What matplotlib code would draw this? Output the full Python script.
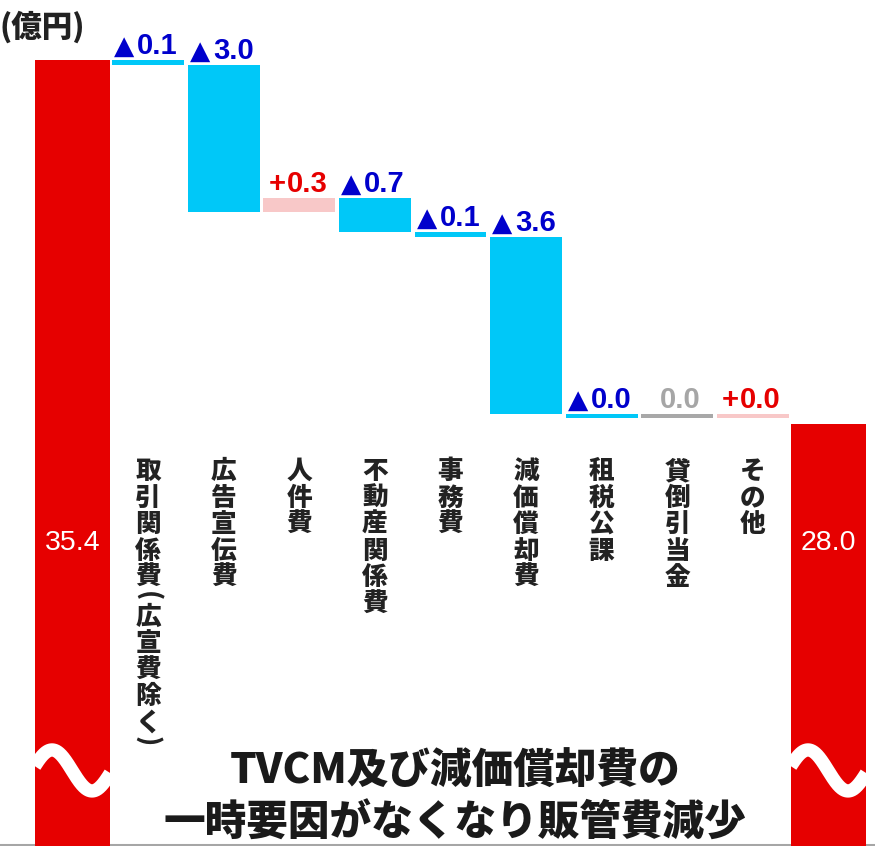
import numpy as np
import matplotlib.pyplot as plt
from matplotlib.lines import Line2D

plt.rcParams['font.family'] = ['Noto Sans CJK JP', 'DejaVu Sans']

# 販管費の増減（億円）
start_value = 35.4
end_value = 28.0
categories = ['取引関係費（広宣費除く）', '広告宣伝費', '人件費', '不動産関係費', '事務費',
              '減価償却費', '租税公課', '貸倒引当金', 'その他']
changes = [0.1, 3.0, 0.3, 0.7, 0.1, 3.6, 0.0, 0.0, 0.0]
directions = ['down', 'down', 'up', 'down', 'down', 'down', 'down', 'flat', 'up']
unit_label = '(億円)'
headline = ['TVCM及び減価償却費の', '一時要因がなくなり販管費減少']

RED = '#e60000'
bar_colors = {'down': '#00c8f8', 'up': '#f8c8c8', 'flat': '#a8a8a8'}
text_colors = {'down': '#0000cc', 'up': '#e60000', 'flat': '#a6a6a6'}
prefix = {'down': '▲', 'up': '+', 'flat': ''}
sign = {'down': -1, 'up': 1, 'flat': 0}
num_font = ['Liberation Sans', 'DejaVu Sans']
thin = 0.08  # smallest drawn height so tiny changes still show
PT = 0.72    # points per pixel at 100 dpi

fig = plt.figure(figsize=(8.75, 8.46), dpi=100)
ax = fig.add_axes([0.0397, 0.0, 0.9504, 1.0])
ylo, yhi = 19.42, 36.62
ax.set_xlim(-0.5, 10.5)
ax.set_ylim(ylo, yhi)
ax.axis('off')

x_end = len(categories) + 1

# start / end totals with a white break mark near the bottom
for x, v in ((0, start_value), (x_end, end_value)):
    patch = ax.bar(x, v, width=0.99, color=RED, zorder=2)[0]
    ax.annotate(f'{v:.1f}', xy=(x, 0.358), xycoords=('data', 'axes fraction'),
                ha='center', va='center', color='white', fontsize=20.5, family=num_font, zorder=4)
    u = np.linspace(0, 1, 200)
    xs = x - 0.5 + u
    ys = (ylo + 1.536) + 0.417 * np.sin(2 * np.pi * (0.034 + 0.945 * u))
    wave, = ax.plot(xs, ys, color='white', lw=9.6, solid_capstyle='butt', zorder=3)
    wave.set_clip_path(patch)

# floating step bars
bar_w = 0.95
level = start_value
for i, (mag, d) in enumerate(zip(changes, directions)):
    x = i + 1
    prev = level
    level = prev + sign[d] * mag
    top = max(prev, level)
    h = max(mag, thin)
    ax.bar(x, h, bottom=top - h, width=bar_w, color=bar_colors[d], zorder=2)
    left = x - bar_w / 2
    if prefix[d] == '▲':
        ax.annotate('▲', xy=(left, top), xytext=(2 * PT, 6 * PT), textcoords='offset points',
                    ha='left', va='baseline', color=text_colors[d], fontsize=19,
                    family=['DejaVu Sans'])
        dx = 25
    elif prefix[d] == '+':
        ax.annotate('+', xy=(left, top), xytext=(5 * PT, 6 * PT), textcoords='offset points',
                    ha='left', va='baseline', color=text_colors[d], fontsize=21,
                    fontweight='bold', family=num_font)
        dx = 23
    else:
        dx = 18
    ax.annotate(f'{mag:.1f}', xy=(left, top), xytext=(dx * PT, 6 * PT), textcoords='offset points',
                ha='left', va='baseline', color=text_colors[d], fontsize=21,
                fontweight='bold', family=num_font)

# vertical category names, one character at a time
fs = 18.5
em = fs / PT
for i, name in enumerate(categories):
    x = i + 1
    cum = 0.0
    for ch in name:
        if ch in '（）':
            step = 13.0
            ax.annotate('(' if ch == '（' else ')', xy=(x, 0.4598),
                        xycoords=('data', 'axes fraction'),
                        xytext=(0, -(cum + step / 2) * PT), textcoords='offset points',
                        ha='center', va='center', rotation=-90, rotation_mode='anchor',
                        fontsize=fs, fontweight='black', color='#222222')
        else:
            step = 26.5
            ax.annotate(ch, xy=(x, 0.4598), xycoords=('data', 'axes fraction'),
                        xytext=(0, -(cum + 0.86 * em) * PT), textcoords='offset points',
                        ha='center', va='baseline', fontsize=fs, fontweight='black',
                        color='#222222')
        cum += step

fig.text(0.0, 1 - 27 / 846, unit_label, ha='left', va='center',
         fontsize=22, fontweight='black', color='#222222')

fig.text(455 / 875, 1 - 772 / 846, headline[0], ha='center', va='center',
         fontsize=30, fontweight='black', color='#1a1a1a')
fig.text(455 / 875, 1 - 824 / 846, headline[1], ha='center', va='center',
         fontsize=30, fontweight='black', color='#1a1a1a')

fig.add_artist(Line2D([0, 1], [1.5 / 846, 1.5 / 846], transform=fig.transFigure,
                      color='#a6a6a6', lw=2.2, zorder=-1))

fig.savefig('out.png', dpi=100)
